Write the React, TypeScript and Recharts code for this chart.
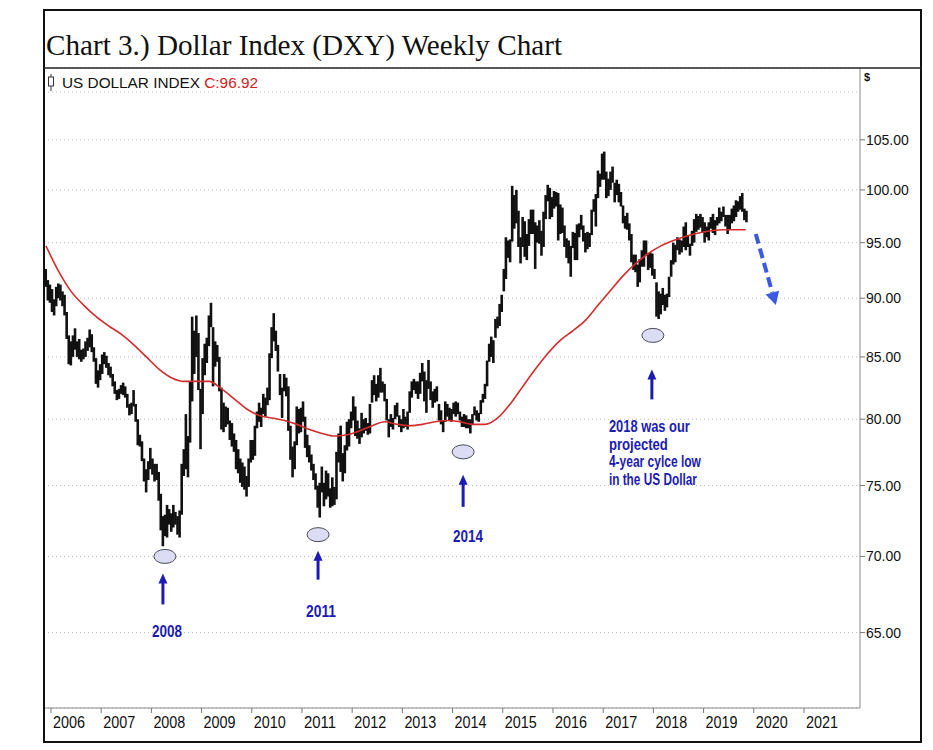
import React from "react";
import {
  ComposedChart, Bar, Line, XAxis, YAxis, CartesianGrid, ReferenceDot, ReferenceLine,
} from "recharts";

// half-month bars; the first one is the second half of Nov 2005
const firstBarStart = 2005 + 21 / 24;

const lows = [
  91.0, 89.8, 89.6,
  88.8, 88.5, 89.3, 90.0, 89.8, 89.3, 88.5, 86.5, 84.4, 84.3, 85.0, 85.6, 85.0, 84.8, 84.6, 84.8, 85.0, 85.5, 85.8, 85.4, 84.6, 82.8, 82.5, 83.1,
  83.6, 84.4, 84.1, 83.5, 83.3, 82.6, 82.0, 81.5, 81.6, 82.0, 81.9, 81.7, 80.9, 80.3, 80.4, 81.0, 79.8, 78.0, 77.9, 76.8, 75.3, 74.5, 75.4, 76.2,
  75.8, 75.3, 75.4, 73.9, 71.8, 70.7, 71.4, 71.3, 72.2, 71.7, 72.0, 72.2, 71.5, 71.3, 72.9, 75.7, 76.2, 75.6, 78.2, 81.4, 83.6, 85.0, 82.3, 77.7,
  80.4, 83.5, 84.5, 85.9, 87.5, 82.6, 84.2, 84.6, 82.2, 79.2, 79.0, 79.4, 79.6, 78.4, 77.9, 77.5, 76.2, 75.9, 75.2, 74.9, 74.7, 74.2, 74.9, 76.7,
  76.9, 77.2, 79.3, 79.8, 79.4, 80.4, 80.2, 81.1, 81.5, 84.9, 86.3, 85.5, 83.8, 81.9, 80.1, 82.2, 81.8, 79.1, 76.9, 75.6, 76.2, 78.0, 78.9, 79.0,
  79.8, 77.8, 77.1, 76.7, 76.1, 75.4, 74.7, 73.4, 72.7, 74.5, 73.5, 74.0, 74.2, 73.4, 73.5, 73.6, 74.0, 76.7, 76.0, 75.3, 75.9, 77.6, 77.9, 79.3,
  79.9, 78.7, 78.5, 78.1, 78.6, 78.9, 79.1, 78.8, 78.9, 81.3, 81.9, 81.4, 81.7, 82.1, 82.1, 81.4, 79.9, 78.6, 79.4, 79.2, 80.0, 80.2, 79.4, 79.0,
  79.3, 79.4, 79.2, 80.5, 81.7, 82.3, 82.0, 81.6, 82.0, 83.0, 81.4, 80.5, 82.4, 81.5, 80.9, 81.3, 81.4, 79.9, 79.6, 79.0, 79.8, 80.2, 79.9, 79.8,
  80.4, 80.2, 80.4, 79.9, 79.4, 79.4, 79.3, 79.3, 78.9, 79.6, 80.3, 79.9, 79.8, 80.4, 81.3, 81.6, 82.6, 84.6, 85.0, 84.5, 86.6, 87.4, 87.6, 88.8,
  90.6, 91.7, 93.6, 93.2, 95.1, 96.3, 96.8, 94.6, 93.1, 94.6, 93.7, 93.4, 94.7, 95.8, 95.8, 92.6, 95.0, 94.9, 93.8, 94.6, 97.2, 98.9, 97.2, 97.4,
  98.2, 98.4, 95.2, 95.8, 95.9, 94.6, 93.6, 93.1, 91.9, 94.5, 93.4, 93.4, 95.5, 96.2, 95.1, 94.1, 94.4, 94.6, 95.7, 97.9, 96.5, 99.2, 100.3, 101.0,
  101.0, 99.2, 99.4, 100.0, 100.7, 98.8, 99.5, 98.8, 98.4, 96.8, 96.3, 96.2, 95.2, 93.2, 92.5, 92.3, 91.0, 91.4, 92.8, 92.8, 93.9, 92.5, 92.7, 92.0,
  91.7, 88.4, 88.2, 88.6, 89.4, 88.9, 89.2, 90.1, 91.9, 93.0, 93.2, 94.3, 93.9, 94.1, 94.6, 94.3, 94.6, 93.8, 94.7, 95.0, 96.0, 96.2, 96.4, 95.9,
  95.0, 95.5, 95.2, 96.3, 95.9, 95.7, 96.6, 96.8, 97.0, 97.4, 96.5, 95.8, 96.2, 96.8, 97.0, 97.4, 97.9, 98.1, 97.9, 97.1, 96.9,
];

const highs = [
  92.6, 91.6, 91.2,
  90.8, 89.9, 91.0, 91.3, 91.2, 90.6, 90.3, 88.8, 86.8, 86.3, 86.8, 87.4, 86.3, 86.5, 85.6, 85.7, 86.3, 86.6, 87.3, 86.9, 85.8, 84.9, 83.9, 84.4,
  85.2, 85.4, 85.1, 84.5, 84.2, 83.6, 83.0, 82.3, 82.4, 82.7, 82.9, 82.6, 82.0, 81.2, 81.3, 82.3, 81.2, 80.0, 78.8, 78.3, 77.0, 76.2, 76.8, 77.8,
  77.0, 76.6, 76.6, 76.0, 74.4, 72.8, 72.9, 73.6, 73.3, 73.0, 73.6, 73.1, 72.8, 73.2, 76.6, 77.7, 80.4, 78.7, 83.0, 88.4, 87.2, 88.5, 87.0, 82.4,
  84.9, 86.1, 86.6, 88.5, 89.6, 87.5, 86.3, 86.0, 85.0, 82.5, 81.3, 81.0, 80.9, 79.9, 79.7, 78.9, 78.4, 77.7, 77.0, 76.7, 76.4, 75.7, 77.0, 78.4,
  78.4, 79.5, 80.6, 81.3, 80.9, 82.0, 81.7, 82.5, 85.3, 87.5, 88.7, 87.2, 86.0, 83.6, 82.5, 83.6, 83.3, 82.6, 79.5, 77.9, 78.3, 81.0, 80.8, 80.9,
  81.4, 80.2, 78.8, 78.0, 77.3, 76.6, 75.9, 75.0, 75.2, 76.4, 75.2, 76.1, 75.9, 74.8, 75.6, 74.9, 77.5, 78.9, 79.5, 77.4, 78.0, 79.8, 80.0, 80.6,
  81.8, 81.0, 79.9, 79.3, 80.5, 80.0, 80.1, 79.7, 81.2, 83.1, 83.5, 82.8, 83.5, 84.1, 83.0, 82.8, 81.6, 80.0, 80.4, 80.1, 81.1, 81.3, 80.3, 80.0,
  80.8, 80.2, 80.6, 82.2, 83.0, 83.2, 83.0, 83.0, 83.7, 84.5, 83.8, 83.1, 84.75, 83.0, 82.2, 82.4, 82.6, 81.2, 80.7, 79.9, 81.4, 81.2, 80.9, 80.8,
  81.3, 81.4, 81.3, 80.6, 80.2, 80.4, 80.3, 80.0, 80.0, 80.4, 81.0, 80.7, 80.5, 81.5, 82.0, 82.8, 84.7, 86.1, 86.7, 86.4, 88.2, 88.4, 89.5, 90.3,
  92.6, 95.5, 95.2, 95.3, 100.4, 99.5, 100.0, 98.0, 95.5, 97.4, 97.0, 95.8, 97.2, 98.1, 98.1, 96.9, 96.6, 97.1, 96.1, 97.9, 99.5, 100.5, 100.2, 99.3,
  99.9, 99.8, 99.7, 98.6, 98.3, 96.6, 95.4, 95.2, 94.7, 96.0, 95.9, 96.7, 96.8, 97.6, 96.6, 95.9, 96.0, 95.9, 98.1, 99.1, 99.6, 101.9, 101.6, 103.6,
  103.8, 101.8, 101.1, 101.8, 102.3, 100.7, 101.0, 100.6, 99.8, 98.5, 97.5, 97.8, 96.8, 95.8, 93.9, 93.9, 93.0, 93.5, 94.3, 95.2, 95.2, 94.0, 94.1, 94.0,
  92.6, 91.4, 90.6, 90.4, 90.9, 90.3, 90.4, 91.9, 93.4, 95.0, 94.8, 95.5, 95.3, 95.2, 96.5, 96.9, 95.7, 94.9, 96.1, 97.2, 97.7, 97.5, 97.7, 97.4,
  96.9, 96.5, 96.9, 97.4, 97.7, 97.1, 97.4, 98.3, 97.9, 98.4, 97.6, 97.6, 97.6, 98.2, 98.5, 99.0, 98.9, 99.4, 99.7, 98.2, 98.0,
];

// 200-week moving average
const maYears = [
  2005.9, 2006.15, 2006.4, 2006.65, 2006.9, 2007.15, 2007.4, 2007.65, 2007.9, 2008.15, 2008.4, 2008.65,
  2008.9, 2009.15, 2009.4, 2009.65, 2009.9, 2010.15, 2010.4, 2010.65, 2010.9, 2011.15, 2011.4, 2011.65,
  2011.9, 2012.15, 2012.4, 2012.65, 2012.9, 2013.15, 2013.4, 2013.65, 2013.9, 2014.15, 2014.4, 2014.65,
  2014.9, 2015.15, 2015.4, 2015.65, 2015.9, 2016.15, 2016.4, 2016.65, 2016.9, 2017.15, 2017.4, 2017.65,
  2017.9, 2018.15, 2018.4, 2018.65, 2018.9, 2019.15, 2019.4, 2019.65, 2019.84,
];
const maValues = [
  94.7, 92.4, 90.6, 89.4, 88.4, 87.6, 86.9, 86.0, 85.0, 84.0, 83.3, 83.0,
  83.0, 83.0, 82.4, 81.6, 80.8, 80.3, 80.1, 79.9, 79.6, 79.2, 78.9, 78.7,
  78.8, 79.1, 79.5, 79.8, 79.6, 79.5, 79.6, 79.8, 79.9, 79.8, 79.6, 79.6,
  80.1, 81.2, 82.6, 84.0, 85.3, 86.4, 87.2, 88.1, 89.4, 90.7, 92.0, 93.1,
  94.0, 94.7, 95.2, 95.6, 95.9, 96.1, 96.2, 96.2, 96.2,
];

const yearTicks = [2006, 2007, 2008, 2009, 2010, 2011, 2012, 2013, 2014, 2015, 2016, 2017, 2018, 2019, 2020, 2021];
const priceTicks = [65, 70, 75, 80, 85, 90, 95, 100, 105, 110];

const callouts = [
  { key: "2008", t: 2008.27, v: 70.0, text: ["2008"] },
  { key: "2011", t: 2011.32, v: 71.5, text: ["2011"] },
  { key: "2014", t: 2014.21, v: 77.5, text: ["2014"] },
  { key: "2018", t: 2017.99, v: 86.8, text: ["2018 was our", "projected", "4-year cylce low", "in the US Dollar"] },
];
const forecast = [{ x: 2020.04, y: 95.8 }, { x: 2020.44, y: 89.4 }];

// pixel offsets of arrow / text from the ellipse centre, and text widths
const calloutLayout: Record<string, any> = {
  "2008": { dx: -2, tip: 17, tail: 48, tx: 2, ty: 81, anchor: "middle", w: [30] },
  "2011": { dx: 0, tip: 16, tail: 45, tx: 3, ty: 82, anchor: "middle", w: [30] },
  "2014": { dx: 0, tip: 23, tail: 55, tx: 5, ty: 90, anchor: "middle", w: [30] },
  "2018": { dx: -1, tip: 34, tail: 64, tx: -44, ty: 97, anchor: "start", w: [81, 59, 92, 88] },
};

const ARIAL = "'Liberation Sans', Arial, sans-serif";
const BLUE = "#1c1cb4";

const bars = lows.map((lo, i) => ({ t: firstBarStart + (i + 0.5) / 24, range: [lo, highs[i]] }));
const maData = maYears.map((t, i) => ({ t, ma: maValues[i] }));

function RangeBar({ x, y, width, height }: any) {
  const cx = x + width / 2;
  const top = height < 0 ? y + height : y;
  return <rect x={cx - 1.3} y={top} width={2.6} height={Math.max(Math.abs(height), 1)} fill="#111" />;
}

function YearTick({ x, y, payload }: any) {
  return (
    <g>
      <line x1={x} y1={y} x2={x} y2={y + 5} stroke="#777" />
      <text x={x + 2} y={y + 20} fontFamily={ARIAL} fontSize={17} fill="#111"
        textLength={32} lengthAdjust="spacingAndGlyphs">
        {payload.value}
      </text>
    </g>
  );
}

function PriceTick({ x, y, payload }: any) {
  if (payload.value === 110) return <g />;
  return (
    <g>
      <line x1={x} y1={y} x2={x + 5} y2={y} stroke="#777" />
      <text x={x + 6} y={y} dy="0.36em" fontFamily={ARIAL} fontSize={14} fill="#111">
        {payload.value.toFixed(2)}
      </text>
    </g>
  );
}

function Callout({ cx, cy, c }: any) {
  const l = calloutLayout[c.key];
  const ax = cx + l.dx;
  return (
    <g>
      <ellipse cx={cx} cy={cy} rx={11} ry={7} fill="#dcdcf4" stroke="#4a4a58" strokeWidth={1} />
      <line x1={ax} y1={cy + l.tail} x2={ax} y2={cy + l.tip + 8} stroke={BLUE} strokeWidth={3} />
      <polygon points={`${ax - 4.5},${cy + l.tip + 10} ${ax + 4.5},${cy + l.tip + 10} ${ax},${cy + l.tip}`} fill={BLUE} />
      {c.text.map((s: string, i: number) => (
        <text key={i} x={cx + l.tx} y={cy + l.ty + i * 17.5} textAnchor={l.anchor}
          fontFamily={ARIAL} fontWeight="bold" fontSize={16} fill={BLUE}
          textLength={l.w[i]} lengthAdjust="spacingAndGlyphs">
          {s}
        </text>
      ))}
    </g>
  );
}

function DashedArrow({ x1, y1, x2, y2 }: any) {
  const dx = x2 - x1, dy = y2 - y1;
  const len = Math.hypot(dx, dy);
  const ux = dx / len, uy = dy / len;
  const bx = x2 - ux * 13, by = y2 - uy * 13;
  const px = -uy * 7, py = ux * 7;
  return (
    <g>
      <line x1={x1} y1={y1} x2={bx} y2={by} stroke="#3a5ae4" strokeWidth={4} strokeDasharray="10 5" />
      <polygon points={`${bx + px},${by + py} ${bx - px},${by - py} ${x2},${y2}`} fill="#3a5ae4" />
    </g>
  );
}

export default function App() {
  return (
    <div style={{ position: "absolute", left: 0, top: 0, width: 933, height: 750, background: "#fff" }}>
      <ComposedChart width={933} height={750} data={bars} margin={{ top: 68, right: 12, bottom: 12, left: 44 }}>
        <CartesianGrid vertical={false} stroke="#bdbdbd" strokeDasharray="1 3" />
        <XAxis
          type="number" dataKey="t" domain={[2005.861, 2022.116]} allowDataOverflow
          ticks={yearTicks} interval={0} height={30} tickSize={0} tickMargin={0}
          tickLine={false} axisLine={{ stroke: "#8a8a8a" }} tick={<YearTick />}
        />
        <YAxis
          orientation="right" scale="log" domain={[60.4, 112.6]} allowDataOverflow
          ticks={priceTicks} interval={0} width={61} tickSize={0} tickMargin={0}
          tickLine={false} axisLine={{ stroke: "#8a8a8a" }} tick={<PriceTick />}
        />
        <Bar dataKey="range" fill="#111" barSize={2} shape={(p: any) => <RangeBar {...p} />} isAnimationActive={false} />
        <Line
          data={maData} dataKey="ma" type="monotone" stroke="#d42c2c" strokeWidth={1.6}
          dot={false} isAnimationActive={false}
        />
        {callouts.map((c) => (
          <ReferenceDot key={c.key} x={c.t} y={c.v} r={0} shape={(p: any) => <Callout {...p} c={c} />} />
        ))}
        <ReferenceLine segment={forecast} shape={(p: any) => <DashedArrow {...p} />} />
      </ComposedChart>

      <svg width={933} height={750} style={{ position: "absolute", left: 0, top: 0, pointerEvents: "none" }}>
        <rect x={44} y={10} width={877} height={732} fill="none" stroke="#111" strokeWidth={2} />
        <line x1={44} y1={68} x2={921} y2={68} stroke="#222" strokeWidth={1.5} />
        <text x={46} y={55} fontFamily="'Liberation Serif', serif" fontSize={30} fill="#111"
          textLength={516} lengthAdjust="spacingAndGlyphs">
          Chart 3.) Dollar Index (DXY) Weekly Chart
        </text>
        <line x1={51} y1={74} x2={51} y2={91} stroke="#333" strokeWidth={1} />
        <rect x={48.5} y={77} width={5} height={9} fill="#fff" stroke="#333" strokeWidth={1} />
        <text x={62} y={88} fontFamily={ARIAL} fontSize={15} fill="#111" textLength={196} lengthAdjust="spacingAndGlyphs">
          US DOLLAR INDEX <tspan fill="#d02020">C:96.92</tspan>
        </text>
        <text x={864} y={81} fontFamily={ARIAL} fontSize={11} fontWeight="bold" fill="#111">$</text>
      </svg>
    </div>
  );
}
